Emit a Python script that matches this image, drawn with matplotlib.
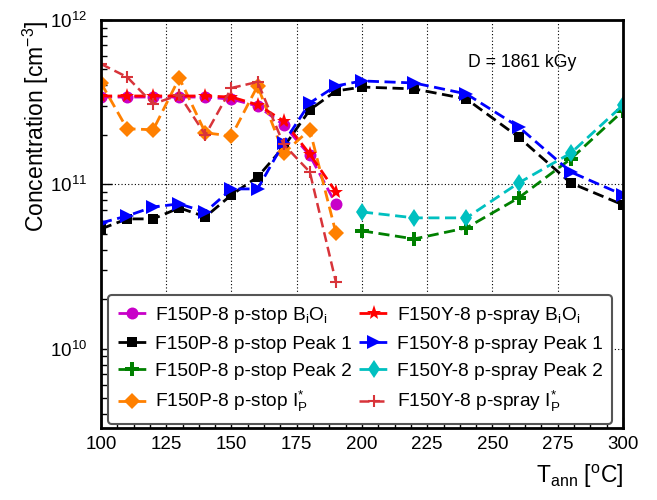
import matplotlib
matplotlib.use("Agg")
import matplotlib.pyplot as plt
from matplotlib.ticker import LogLocator, MultipleLocator, NullFormatter

plt.rcParams["font.family"] = ["Liberation Sans", "DejaVu Sans"]
plt.rcParams["mathtext.fontset"] = "custom"
plt.rcParams["mathtext.rm"] = "Liberation Sans"
plt.rcParams["mathtext.it"] = "Liberation Sans:italic"
plt.rcParams["mathtext.default"] = "regular"

# annealing temperatures [C]
T_low = [100, 110, 120, 130, 140, 150, 160, 170, 180, 190]
T_peak1 = [100, 110, 120, 130, 140, 150, 160, 170, 180, 190, 200, 220, 240, 260, 280, 300]
T_peak2 = [200, 220, 240, 260, 280, 300]

# concentrations [cm^-3]
P_bioi = [3.40e11, 3.40e11, 3.40e11, 3.40e11, 3.40e11, 3.30e11, 3.00e11, 2.30e11, 1.50e11, 7.6e10]
P_peak1 = [5.36e10, 6.17e10, 6.17e10, 7.20e10, 6.35e10, 8.64e10, 1.11e11, 1.69e11,
           2.84e11, 3.70e11, 3.91e11, 3.81e11, 3.31e11, 1.94e11, 1.02e11, 7.51e10]
P_peak2 = [5.22e10, 4.66e10, 5.44e10, 8.28e10, 1.43e11, 2.80e11]
P_ip = [4.14e11, 2.18e11, 2.15e11, 4.44e11, 2.06e11, 1.97e11, 3.97e11, 1.55e11, 2.15e11, 5.07e10]

Y_bioi = [3.45e11, 3.45e11, 3.45e11, 3.45e11, 3.45e11, 3.40e11, 3.05e11, 2.43e11, 1.53e11, 9.0e10]
Y_peak1 = [5.83e10, 6.43e10, 7.30e10, 7.61e10, 6.80e10, 9.39e10, 9.39e10, 1.79e11,
           3.13e11, 3.97e11, 4.26e11, 4.14e11, 3.55e11, 2.24e11, 1.19e11, 8.64e10]
Y_peak2 = [6.80e10, 6.26e10, 6.26e10, 1.02e11, 1.55e11, 3.04e11]
Y_ip = [5.40e11, 4.50e11, 3.09e11, 3.50e11, 2.00e11, 3.86e11, 4.20e11, 1.75e11, 1.19e11, 2.55e10]

fig = plt.figure(figsize=(6.57, 5), dpi=100)
ax = fig.add_axes([101/657, 1 - 428/500, 522/657, 408/500])

dash = (0, (4, 2))
kw = dict(ls=dash, lw=2, mew=0)
ax.plot(T_low, P_bioi, marker="o", ms=8.6, color="#c800c8", label="F150P-8 p-stop B$_{i}$O$_{i}$", **kw)
ax.plot(T_peak1, P_peak1, marker="s", ms=7.4, color="black", label="F150P-8 p-stop Peak 1", **kw)
ax.plot(T_peak2, P_peak2, marker="P", ms=9.5, color="#008000", label="F150P-8 p-stop Peak 2", **kw)
ax.plot(T_low, P_ip, marker="D", ms=8.6, color="#ff8000", label="F150P-8 p-stop I$_{P}^{*}$", **kw)
ax.plot(T_low, Y_bioi, marker="*", ms=11, color="#ff0000", label="F150Y-8 p-spray B$_{i}$O$_{i}$", **kw)
ax.plot(T_peak1, Y_peak1, marker=">", ms=10, color="#0000ff", label="F150Y-8 p-spray Peak 1", **kw)
ax.plot(T_peak2, Y_peak2, marker="d", ms=9.5, color="#00c0c0", label="F150Y-8 p-spray Peak 2", **kw)
ax.plot(T_low, Y_ip, marker="+", ms=8, mew=1.5, ls=dash, lw=1.8, color="#d8343a",
        label="F150Y-8 p-spray I$_{P}^{*}$")

ax.set_yscale("log")
ax.set_xlim(100, 300)
ax.set_ylim(3.3e9, 1e12)
ax.xaxis.set_major_locator(MultipleLocator(25))
ax.xaxis.set_minor_locator(MultipleLocator(6.25))
ax.yaxis.set_major_locator(LogLocator(base=10))
ax.yaxis.set_minor_locator(LogLocator(base=10, subs=range(2, 10)))
ax.yaxis.set_minor_formatter(NullFormatter())
ax.tick_params(which="both", direction="in", top=False, right=False, labelsize=13.5)
ax.tick_params(which="major", length=8, width=1)
ax.tick_params(which="minor", length=4, width=1)
ax.tick_params(axis="x", pad=6)
ax.tick_params(axis="y", pad=10)
for s in ax.spines.values():
    s.set_linewidth(2)
ax.grid(True, which="major", ls=(0, (1, 2)), color="black", lw=0.8)

ax.set_ylabel("Concentration [cm$^{-3}$]", fontsize=16.5, loc="top")
ax.set_xlabel("T$_{ann}$ [$^{o}$C]", fontsize=16.5, loc="right")
ax.yaxis.set_label_coords(-0.095, 1.0)
ax.xaxis.set_label_coords(1.0, -0.085)

ax.text(0.703, 0.895, "D = 1861 kGy", transform=ax.transAxes, fontsize=12.7, va="center")

leg = ax.legend(ncol=2, loc="lower left", bbox_to_anchor=(0.0134, 0.0098, 0.966, 0.314),
                mode="expand", fontsize=13.8, fancybox=True, edgecolor="#555555",
                handlelength=1.5, handletextpad=0.45, labelspacing=0.5, columnspacing=0.8,
                borderaxespad=0, borderpad=0.5, framealpha=1)
leg.get_frame().set_linewidth(1.5)

fig.savefig("out.png", dpi=100)
